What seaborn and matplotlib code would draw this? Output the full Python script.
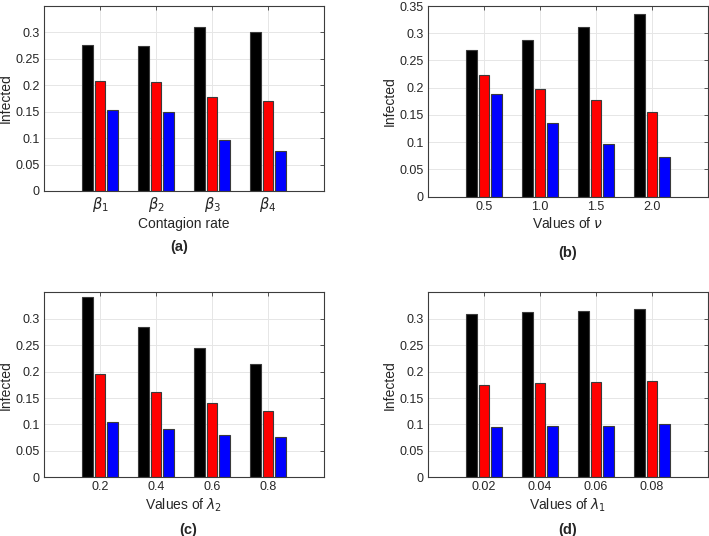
import pandas as pd
import matplotlib.pyplot as plt
import seaborn as sns

# values (three series per group)
series = ['s1', 's2', 's3']
colors = ['#000000', '#ff0000', '#0000ff']

cats_a = [r'$\beta_1$', r'$\beta_2$', r'$\beta_3$', r'$\beta_4$']
a_black = [0.276, 0.275, 0.311, 0.300]
a_red = [0.208, 0.207, 0.177, 0.170]
a_blue = [0.153, 0.149, 0.097, 0.076]

cats_b = ['0.5', '1.0', '1.5', '2.0']
b_black = [0.269, 0.288, 0.311, 0.336]
b_red = [0.223, 0.197, 0.177, 0.156]
b_blue = [0.188, 0.135, 0.096, 0.072]

cats_c = ['0.2', '0.4', '0.6', '0.8']
c_black = [0.341, 0.284, 0.245, 0.215]
c_red = [0.195, 0.161, 0.140, 0.125]
c_blue = [0.104, 0.091, 0.081, 0.076]

cats_d = ['0.02', '0.04', '0.06', '0.08']
d_black = [0.309, 0.312, 0.315, 0.318]
d_red = [0.175, 0.178, 0.180, 0.182]
d_blue = [0.096, 0.097, 0.098, 0.100]

panels = [
    (cats_a, [a_black, a_red, a_blue], 'Contagion rate', '(a)', [0.062, 0.6437, 0.395, 0.345], False),
    (cats_b, [b_black, b_red, b_blue], r'Values of $\nu$', '(b)', [0.6037, 0.633, 0.395, 0.3558], True),
    (cats_c, [c_black, c_red, c_blue], r'Values of $\lambda_2$', '(c)', [0.062, 0.1095, 0.395, 0.345], False),
    (cats_d, [d_black, d_red, d_blue], r'Values of $\lambda_1$', '(d)', [0.6037, 0.1095, 0.395, 0.345], False),
]
letter_pos = [(179, 247), (568, 253), (188, 530), (568, 530)]

sns.set_style('whitegrid')
plt.rcParams['font.family'] = ['Liberation Sans', 'DejaVu Sans']
plt.rcParams['mathtext.fontset'] = 'dejavusans'

fig = plt.figure(figsize=(7.09, 5.36), dpi=100)

for (cats, vals, xlab, letter, rect, show_top), (lx, ly) in zip(panels, letter_pos):
    df = pd.DataFrame({
        'cat': cats * 3,
        'series': [s for s in series for _ in cats],
        'value': vals[0] + vals[1] + vals[2],
    })
    ax = fig.add_axes(rect)
    sns.barplot(data=df, x='cat', y='value', hue='series', order=cats,
                hue_order=series, palette=colors, width=0.67, gap=0.16,
                edgecolor='#3a3a3a', linewidth=0.8, legend=False, ax=ax,
                saturation=1)
    ax.set_xlim(-1, 4)
    ax.set_ylim(0, 0.35)
    yt = [0, 0.05, 0.1, 0.15, 0.2, 0.25, 0.3]
    ylab = ['0', '0.05', '0.1', '0.15', '0.2', '0.25', '0.3']
    if show_top:
        yt.append(0.35)
        ylab.append('0.35')
    ax.set_yticks(yt)
    ax.set_yticklabels(ylab)
    ax.grid(True, color='#e6e6e6', linewidth=0.7)
    ax.set_axisbelow(True)
    for sp in ax.spines.values():
        sp.set_color('#3c3c3c')
        sp.set_linewidth(0.8)
        sp.set_visible(True)
    ax.tick_params(direction='in', length=3, width=0.6, color='#3c3c3c',
                   labelsize=9, top=True, right=True, pad=3)
    if show_top is False and letter == '(a)':
        ax.tick_params(axis='x', labelsize=10.5)
    ax.set_xlabel(xlab, fontsize=10, labelpad=2)
    ax.set_ylabel('Infected', fontsize=10, labelpad=2)
    fig.text(lx / 709, 1 - ly / 536, letter, fontsize=10.5, fontweight='bold',
             ha='center', va='center')

fig.savefig('out.png', dpi=100)
